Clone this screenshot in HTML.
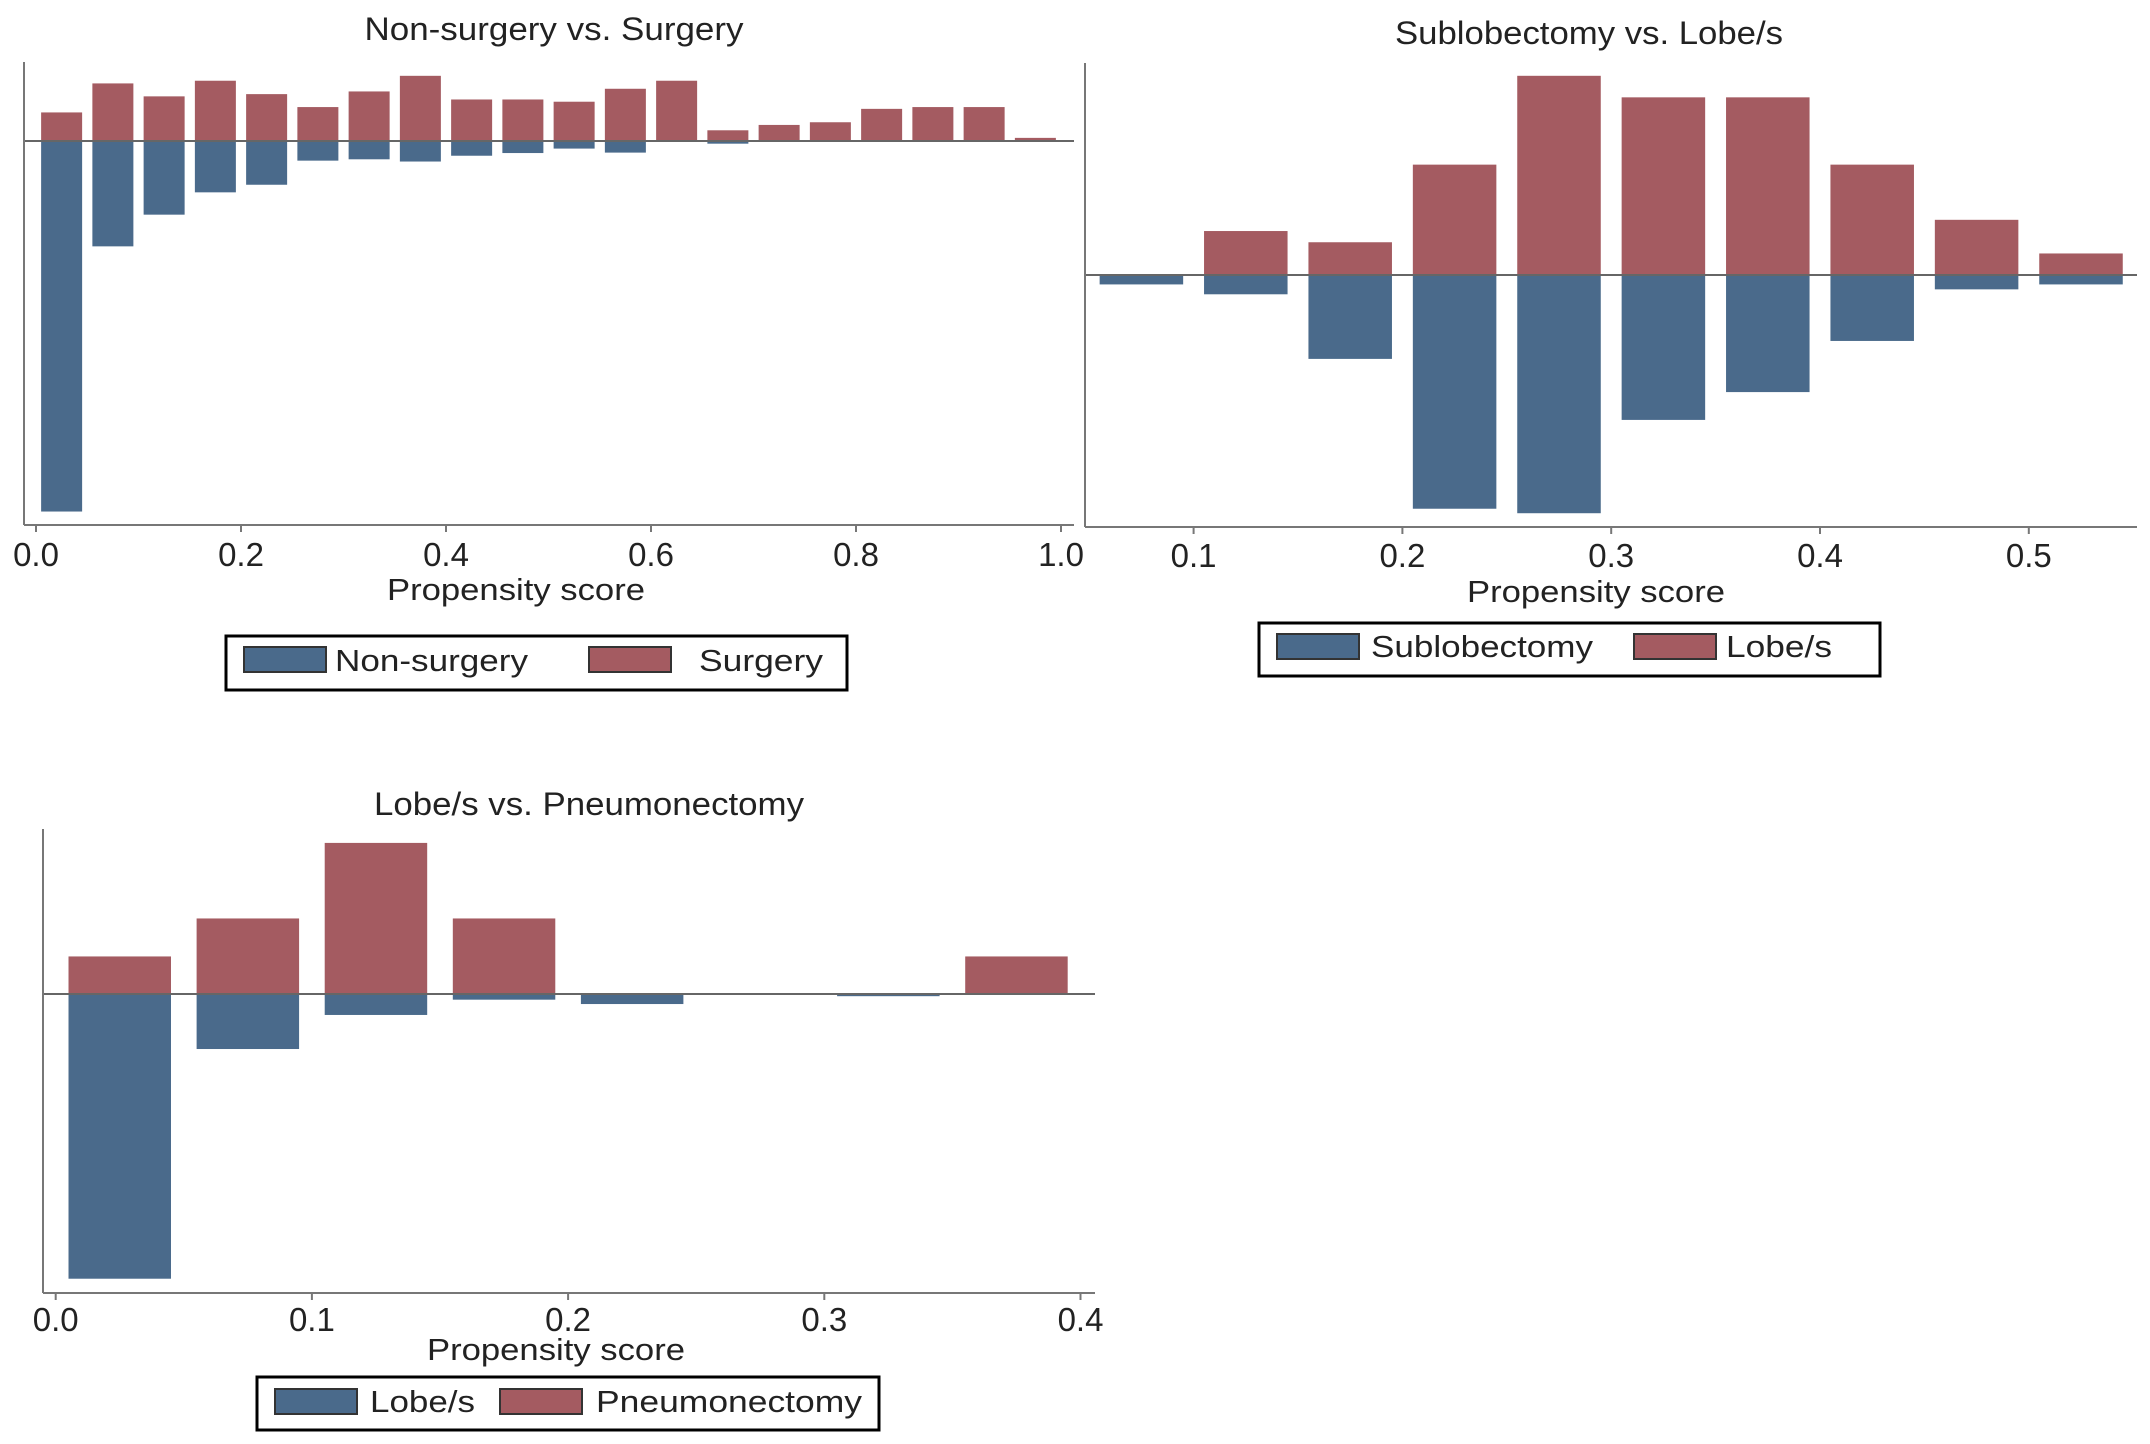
<!DOCTYPE html>
<html><head><meta charset="utf-8">
<style>
html,body{margin:0;padding:0;background:#fff;}
svg{display:block;font-family:"Liberation Sans",Arial,sans-serif;}
</style></head>
<body>
<svg id="fig" width="2150" height="1444" viewBox="0 0 2150 1444" xmlns="http://www.w3.org/2000/svg">
<rect width="2150" height="1444" fill="#fff"/>
</svg>
<script>
// Panel 1: Non-surgery vs Surgery (bins of 0.05 from 0.0)
const p1Bins = [0.0,0.05,0.10,0.15,0.20,0.25,0.30,0.35,0.40,0.45,0.50,0.55,0.60,0.65,0.70,0.75,0.80,0.85,0.90,0.95];
const p1Top = [64,129,100,135,105,76,111,146,93,93,88,117,135,24,36,42,72,76,76,7];
const p1Bottom = [830,236,165,115,98,44,41,46,33,27,17,26,2,6,0,0,0,0,0,0];
const p1Ticks = ["0.0","0.2","0.4","0.6","0.8","1.0"];
const p1TickVals = [0,0.2,0.4,0.6,0.8,1.0];
// Panel 2: Sublobectomy vs Lobe/s
const p2Bins = [0.05,0.10,0.15,0.20,0.25,0.30,0.35,0.40,0.45,0.50];
const p2Top = [0,98,73,246,444,396,396,246,123,48];
const p2Bottom = [21,43,187,521,531,323,261,147,32,21];
const p2Ticks = ["0.1","0.2","0.3","0.4","0.5"];
const p2TickVals = [0.1,0.2,0.3,0.4,0.5];
// Panel 3: Lobe/s vs Pneumonectomy
const p3Bins = [0.0,0.05,0.10,0.15,0.20,0.25,0.30,0.35];
const p3Top = [86,173,346,173,0,0,0,86];
const p3Bottom = [652,126,48,13,23,0,5,0];
const p3Ticks = ["0.0","0.1","0.2","0.3","0.4"];
const p3TickVals = [0,0.1,0.2,0.3,0.4];

const NS="http://www.w3.org/2000/svg";
const svg=document.getElementById('fig');
const BLUE="#4a6a8b", RED="#a45b61", AX="#777";
function mk(tag,attrs,parent){const e=document.createElementNS(NS,tag);for(const k in attrs)e.setAttribute(k,attrs[k]);(parent||svg).appendChild(e);return e;}

function panel(cfg){
  const g=mk('g',{});
  
  
  const xs=v=>cfg.x0+v*cfg.xk;
  const ys=v=>v/cfg.vy;
  const t=mk('text',{x:cfg.titleX,y:cfg.titleY,'text-anchor':'middle','font-size':32,fill:'#222',textLength:cfg.titleW,lengthAdjust:'spacingAndGlyphs'},g);
  t.textContent=cfg.title;
  
  
  cfg.bins.forEach((b,i)=>{
    const x1=xs(b+0.005), w=xs(b+0.045)-x1;
    if(cfg.top[i]>0){
      const h=ys(cfg.top[i]);
      const r=mk('rect',{x:x1,y:cfg.base-h,width:w,height:h,fill:RED},g);
      
      
    }
    if(cfg.bottom[i]>0){
      const h=ys(cfg.bottom[i]);
      const r=mk('rect',{x:x1,y:cfg.base,width:w,height:h,fill:BLUE},g);
      
      
    }
  });
  const bl=mk('line',{x1:cfg.axX,x2:cfg.axR,y1:cfg.base,y2:cfg.base,stroke:'#666','stroke-width':2},g);
  
  
  const ya=mk('line',{x1:cfg.axX,x2:cfg.axX,y1:cfg.axTop,y2:cfg.axY,stroke:AX,'stroke-width':2},g);
  
  
  const xa=mk('line',{x1:cfg.axX,x2:cfg.axR,y1:cfg.axY,y2:cfg.axY,stroke:AX,'stroke-width':2},g);
  
  
  cfg.tickVals.forEach((v,i)=>{
    const x=xs(v);
    mk('line',{x1:x,x2:x,y1:cfg.axY,y2:cfg.axY+7,stroke:AX,'stroke-width':2},g);
    const tl=mk('text',{x:x,y:cfg.tickY,'text-anchor':'middle','font-size':33,fill:'#222'},g);
    tl.textContent=cfg.ticks[i];
    
    
  });
  const at=mk('text',{x:cfg.axTitleX,y:cfg.axTitleY,'text-anchor':'middle','font-size':31,fill:'#222',textLength:258,lengthAdjust:'spacingAndGlyphs'},g);
  at.textContent='Propensity score';
  
  
  const L=cfg.leg;
  const lb=mk('rect',{x:L.x1,y:L.y1,width:L.x2-L.x1,height:L.y2-L.y1,fill:'#fff',stroke:'#000','stroke-width':3},g);
  
  
  [[L.k1,BLUE,L.t1,L.l1,L.w1],[L.k2,RED,L.t2,L.l2,L.w2]].forEach(([kx,col,tx,lab,tw],j)=>{
    const k=mk('rect',{x:kx,y:L.ky1,width:82,height:L.ky2-L.ky1,fill:col,stroke:'#333','stroke-width':2},g);
    
    
    const tt=mk('text',{x:tx,y:L.ty,'font-size':31,fill:'#222',textLength:tw,lengthAdjust:'spacingAndGlyphs'},g);
    tt.textContent=lab;
    
    
  });
}

panel({name:'panel-non-surgery-vs-surgery',title:'Non-surgery vs. Surgery',titleX:554,titleY:40,titleW:379,
  x0:36,xk:1025,vy:2.24,base:141,axX:24,axR:1074,axTop:62,axY:525,tickY:566,axTitleX:516,axTitleY:600,
  bins:p1Bins,top:p1Top,bottom:p1Bottom,ticks:p1Ticks,tickVals:p1TickVals,sTop:'surgery',sBottom:'non-surgery',
  leg:{x1:226,y1:636,x2:847,y2:690,ky1:647,ky2:672,k1:244,k2:589,t1:335,t2:699,ty:671,l1:'Non-surgery',l2:'Surgery',w1:193,w2:124}});
panel({name:'panel-sublobectomy-vs-lobes',title:'Sublobectomy vs. Lobe/s',titleX:1589,titleY:44,titleW:388,
  x0:984.8,xk:2088,vy:2.229,base:275,axX:1085,axR:2137,axTop:63,axY:527,tickY:567,axTitleX:1596,axTitleY:602,
  bins:p2Bins,top:p2Top,bottom:p2Bottom,ticks:p2Ticks,tickVals:p2TickVals,sTop:'lobes',sBottom:'sublobectomy',
  leg:{x1:1259,y1:623,x2:1880,y2:676,ky1:634,ky2:659,k1:1277,k2:1634,t1:1371,t2:1726,ty:657,l1:'Sublobectomy',l2:'Lobe/s',w1:222,w2:106}});
panel({name:'panel-lobes-vs-pneumonectomy',title:'Lobe/s vs. Pneumonectomy',titleX:589,titleY:815,titleW:430,
  x0:55.7,xk:2562,vy:2.29,base:994,axX:43,axR:1095,axTop:829,axY:1293,tickY:1331,axTitleX:556,axTitleY:1360,
  bins:p3Bins,top:p3Top,bottom:p3Bottom,ticks:p3Ticks,tickVals:p3TickVals,sTop:'pneumonectomy',sBottom:'lobes',
  leg:{x1:257,y1:1377,x2:879,y2:1430,ky1:1389,ky2:1414,k1:275,k2:500,t1:370,t2:596,ty:1412,l1:'Lobe/s',l2:'Pneumonectomy',w1:105,w2:266}});
</script>
</body></html>
